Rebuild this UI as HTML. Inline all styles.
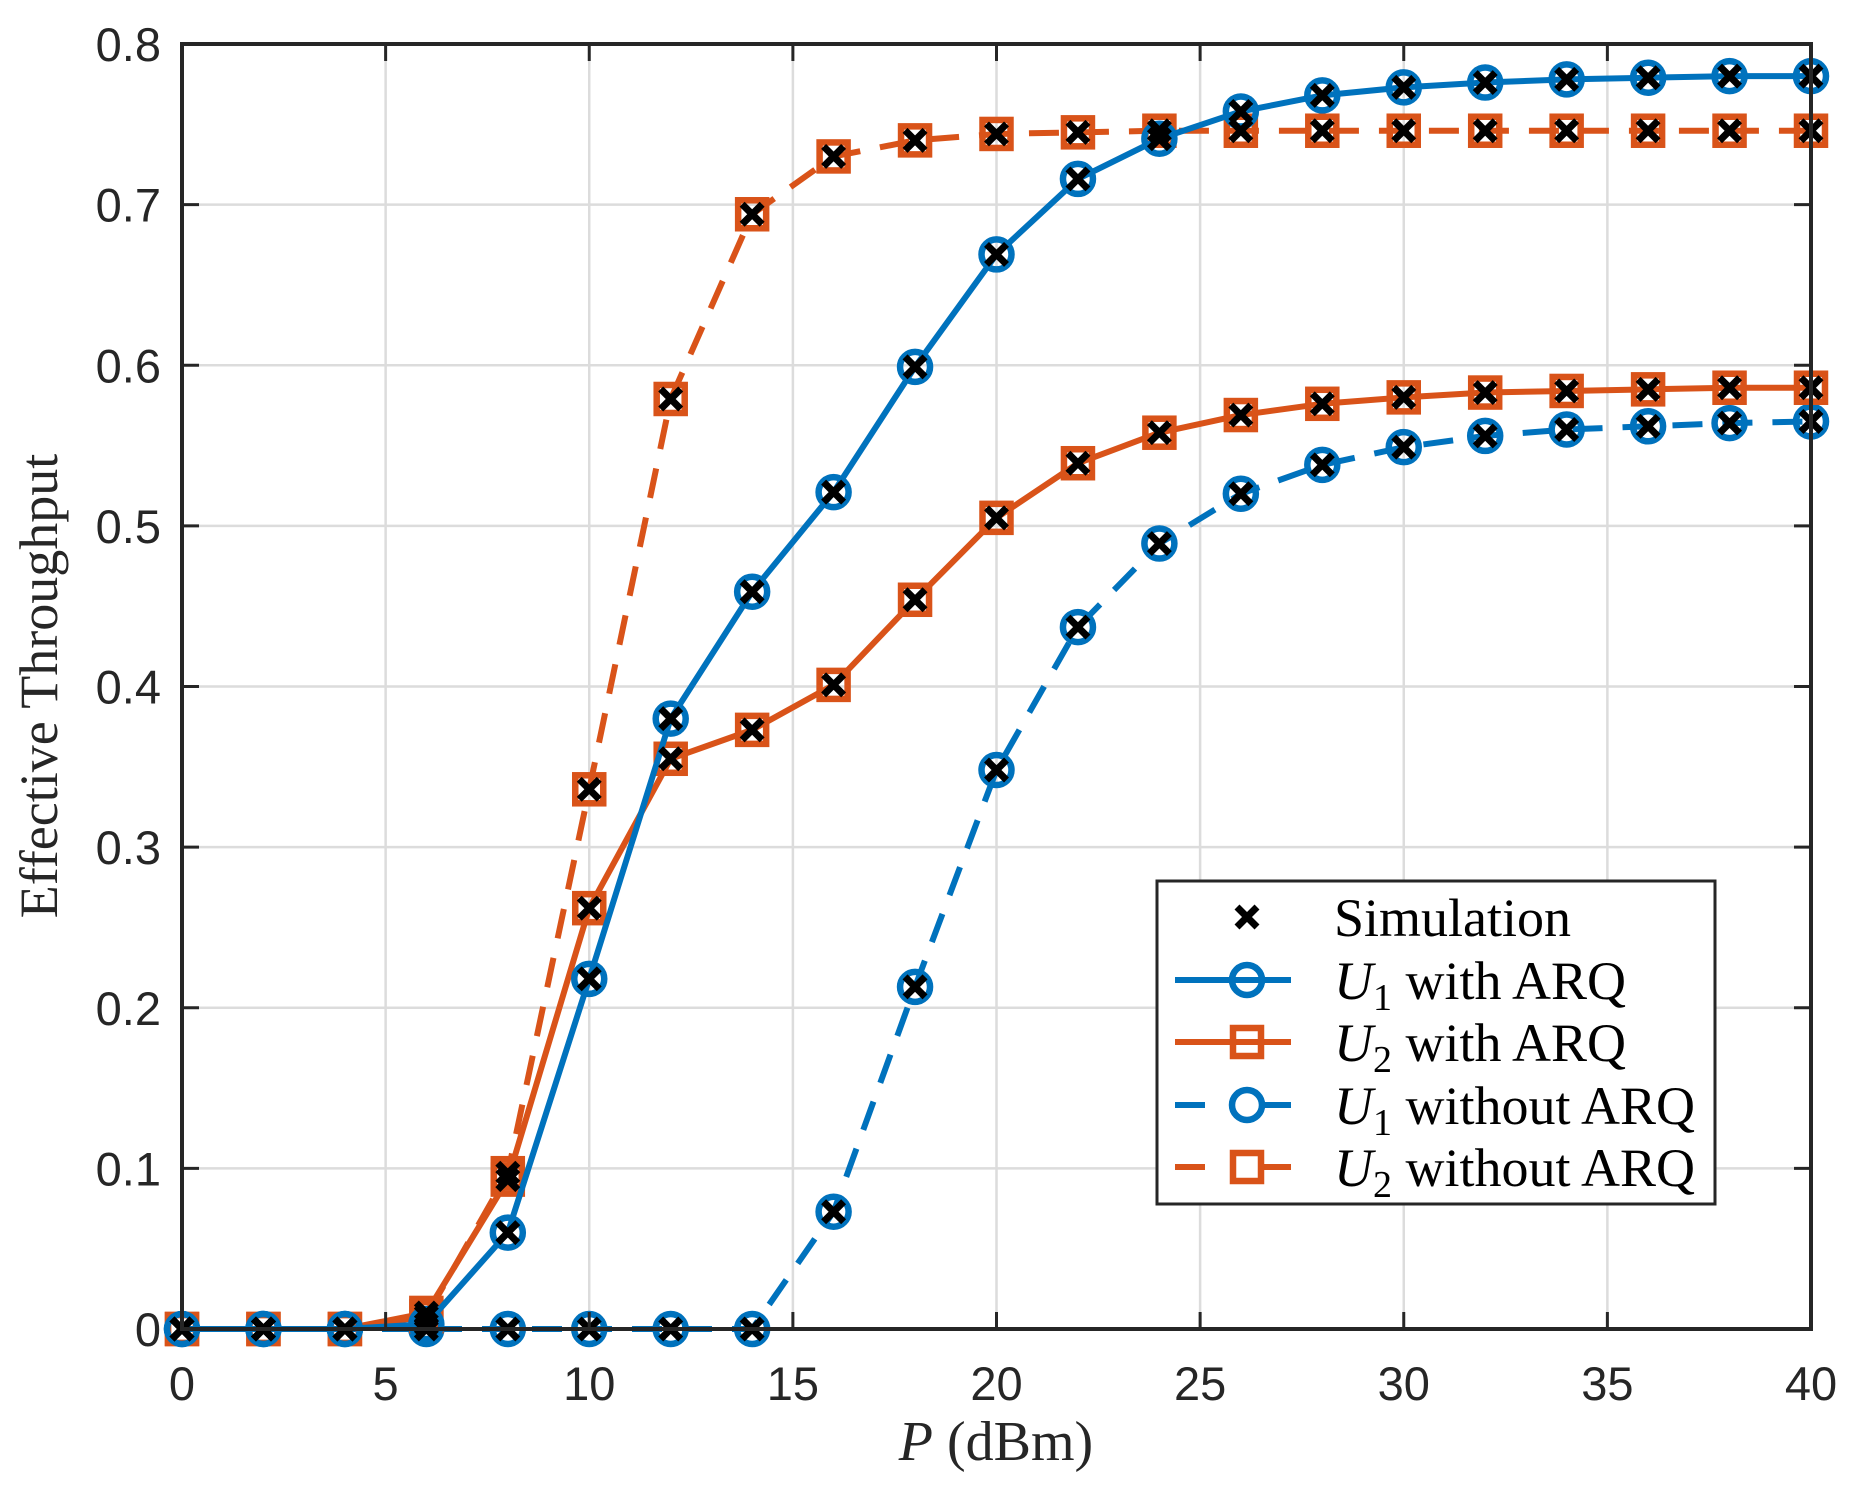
<!DOCTYPE html>
<html><head><meta charset="utf-8"><style>
html,body{margin:0;padding:0;background:#fff;}
svg{display:block;}
</style></head><body>
<svg id="chart" width="1855" height="1496" viewBox="0 0 1855 1496" xmlns="http://www.w3.org/2000/svg">
<g id="grid"></g>
<g id="series"></g>
<g id="axes"></g>
<text x="57" y="686" transform="rotate(-90 57 686)" text-anchor="middle" font-family="Liberation Serif, serif" font-size="54" fill="#262626">Effective Throughput</text>
<text x="996" y="1460" text-anchor="middle" font-family="Liberation Serif, serif" font-size="56" fill="#262626"><tspan font-style="italic">P</tspan> (dBm)</text>
<g id="legend"></g>
</svg>
<script>
const xs = [0,2,4,6,8,10,12,14,16,18,20,22,24,26,28,30,32,34,36,38,40];
const u1Arq = [0,0,0,0.003,0.06,0.218,0.38,0.459,0.521,0.599,0.669,0.716,0.741,0.758,0.768,0.773,0.776,0.778,0.779,0.78,0.78];
const u2Arq = [0,0,0,0.01,0.093,0.262,0.355,0.373,0.401,0.454,0.505,0.539,0.558,0.569,0.576,0.58,0.583,0.584,0.585,0.586,0.586];
const u1NoArq = [0,0,0,0,0,0,0,0,0.073,0.213,0.348,0.437,0.489,0.52,0.538,0.549,0.556,0.56,0.562,0.564,0.565];
const u2NoArq = [0,0,0,0.008,0.097,0.336,0.579,0.694,0.73,0.74,0.744,0.745,0.746,0.746,0.746,0.746,0.746,0.746,0.746,0.746,0.746];
const xTicks = [0,5,10,15,20,25,30,35,40];
const yTicks = [0,0.1,0.2,0.3,0.4,0.5,0.6,0.7,0.8];
const yTickLabels = ["0","0.1","0.2","0.3","0.4","0.5","0.6","0.7","0.8"];

const L=182,R=1811,T=44,B=1329;
const X=v=>L+(v-0)/(40-0)*(R-L);
const Y=v=>B-(v-0)/(0.8-0)*(B-T);
const NS="http://www.w3.org/2000/svg";
function mk(tag,attrs,parent){const e=document.createElementNS(NS,tag);for(const k in attrs)e.setAttribute(k,attrs[k]);parent.appendChild(e);return e;}
const grid=document.getElementById('grid'),axes=document.getElementById('axes'),ser=document.getElementById('series'),leg=document.getElementById('legend');
const BLUE="#0072BD",ORANGE="#D95319";

xTicks.forEach(t=>{
  const g=mk('line',{x1:X(t),x2:X(t),y1:T,y2:B,stroke:'#dcdcdc','stroke-width':2.5},grid);
  
  
  const a=mk('line',{x1:X(t),x2:X(t),y1:B,y2:B-17,stroke:'#262626','stroke-width':3},axes);
  
  
  const b=mk('line',{x1:X(t),x2:X(t),y1:T,y2:T+17,stroke:'#262626','stroke-width':3},axes);
  
  
  const tx=mk('text',{x:X(t),y:1400,'text-anchor':'middle','font-family':'Liberation Sans, sans-serif','font-size':47,fill:'#262626'},axes);
  tx.textContent=t;
  
  
});
yTicks.forEach((t,i)=>{
  const g=mk('line',{x1:L,x2:R,y1:Y(t),y2:Y(t),stroke:'#dcdcdc','stroke-width':2.5},grid);
  
  
  const a=mk('line',{x1:L,x2:L+17,y1:Y(t),y2:Y(t),stroke:'#262626','stroke-width':3},axes);
  
  
  const b=mk('line',{x1:R,x2:R-17,y1:Y(t),y2:Y(t),stroke:'#262626','stroke-width':3},axes);
  
  
  const tx=mk('text',{x:161,y:Y(t)+17,'text-anchor':'end','font-family':'Liberation Sans, sans-serif','font-size':47,fill:'#262626'},axes);
  tx.textContent=yTickLabels[i];
  
  
});
const box=mk('rect',{x:L,y:T,width:R-L,height:B-T,fill:'none',stroke:'#262626','stroke-width':4},axes);



function circle(x,y,parent,c){return mk('circle',{cx:x,cy:y,r:15,fill:'none',stroke:c,'stroke-width':6.5},parent);}
function square(x,y,parent,c){return mk('rect',{x:x-14,y:y-14,width:28,height:28,fill:'none',stroke:c,'stroke-width':6.5},parent);}
function cross(x,y,parent){return mk('path',{d:`M${x-10},${y-10}L${x+10},${y+10}M${x+10},${y-10}L${x-10},${y+10}`,stroke:'#000','stroke-width':7,fill:'none'},parent);}

function drawSeries(vals,color,dash,marker,name){
  const g=mk('g',{},ser);
  
  
  const pts=xs.map((x,i)=>X(x)+','+Y(vals[i])).join(' ');
  const pl=mk('polyline',{points:pts,fill:'none',stroke:color,'stroke-width':6,'stroke-linejoin':'round'},g);
  if(dash)pl.setAttribute('stroke-dasharray','30 20');
  
  
  xs.forEach((x,i)=>{
    const m=marker==='o'?circle(X(x),Y(vals[i]),g,color):square(X(x),Y(vals[i]),g,color);
    
    
  });
}
drawSeries(u1NoArq,BLUE,true,'o','u1-without-arq');
drawSeries(u2NoArq,ORANGE,true,'s','u2-without-arq');
drawSeries(u2Arq,ORANGE,false,'s','u2-with-arq');
drawSeries(u1Arq,BLUE,false,'o','u1-with-arq');
[u1Arq,u2Arq,u1NoArq,u2NoArq].forEach(vals=>{
  xs.forEach((x,i)=>{
    const c=cross(X(x),Y(vals[i]),ser);
    
    
  });
});

// legend
const lb=mk('rect',{x:1157,y:881,width:558,height:323,fill:'#fff',stroke:'#262626','stroke-width':3},leg);


const rows=[
 {y:917,label:'Simulation',type:'x'},
 {y:980,sub:'1',label:' with ARQ',type:'o',c:BLUE,dash:false},
 {y:1042,sub:'2',label:' with ARQ',type:'s',c:ORANGE,dash:false},
 {y:1105,sub:'1',label:' without ARQ',type:'o',c:BLUE,dash:true},
 {y:1167,sub:'2',label:' without ARQ',type:'s',c:ORANGE,dash:true}
];
rows.forEach(r=>{
  const g=mk('g',{},leg);
  
  
  if(r.type==='x'){cross(1247,r.y,g);}
  else{
    if(r.dash){
      mk('line',{x1:1175,x2:1205,y1:r.y,y2:r.y,stroke:r.c,'stroke-width':6},g);
      mk('line',{x1:1260,x2:1291,y1:r.y,y2:r.y,stroke:r.c,'stroke-width':6},g);
    } else {
      mk('line',{x1:1175,x2:1291,y1:r.y,y2:r.y,stroke:r.c,'stroke-width':6},g);
    }
    if(r.type==='o')circle(1247,r.y,g,r.c);else square(1247,r.y,g,r.c);
  }
  const t=mk('text',{x:1334,y:r.y+19,'font-family':'Liberation Serif, serif','font-size':54,fill:'#000'},g);
  if(r.type==='x'){t.textContent=r.label;}
  else{
    t.innerHTML='<tspan font-style="italic">U</tspan><tspan font-size="38" dy="11">'+r.sub+'</tspan><tspan dy="-11">'+r.label+'</tspan>';
  }
});
</script>
</body></html>
